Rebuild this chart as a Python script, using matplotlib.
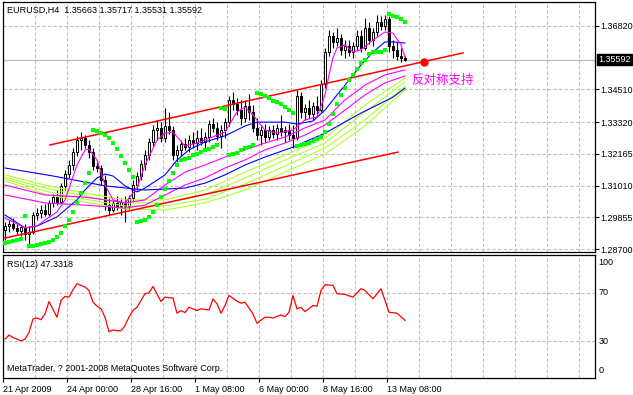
import matplotlib.pyplot as plt
import matplotlib.transforms as mtransforms
import numpy as np

# ---- EURUSD H4 candles ----
opens = [1.2939, 1.2954, 1.2961, 1.2947, 1.2936, 1.2950, 1.2925, 1.2932, 1.2994, 1.3001,
         1.3012, 1.2998, 1.3038, 1.3059, 1.3041, 1.3100, 1.3143, 1.3176, 1.3223, 1.3267,
         1.3274, 1.3249, 1.3223, 1.3172, 1.3165, 1.3121, 1.3030, 1.3012, 1.3038, 1.3027,
         1.3041, 1.3027, 1.3056, 1.3103, 1.3136, 1.3180, 1.3212, 1.3260, 1.3303, 1.3311,
         1.3274, 1.3318, 1.3303, 1.3212, 1.3231, 1.3252, 1.3241, 1.3267, 1.3256, 1.3274,
         1.3260, 1.3278, 1.3325, 1.3311, 1.3282, 1.3303, 1.3332, 1.3413, 1.3398, 1.3376,
         1.3347, 1.3391, 1.3369, 1.3311, 1.3285, 1.3303, 1.3278, 1.3303, 1.3289, 1.3311,
         1.3296, 1.3303, 1.3285, 1.3274, 1.3427, 1.3369, 1.3383, 1.3362, 1.3391, 1.3376,
         1.3471, 1.3587, 1.3646, 1.3624, 1.3638, 1.3595, 1.3609, 1.3587, 1.3609, 1.3646,
         1.3602, 1.3675, 1.3631, 1.3660, 1.3697, 1.3682, 1.3707, 1.3609, 1.3595, 1.3573,
         1.35663]
highs = [1.2968, 1.2976, 1.2983, 1.2961, 1.2958, 1.2961, 1.2954, 1.3005, 1.3019, 1.3030,
         1.3034, 1.3049, 1.3070, 1.3085, 1.3110, 1.3158, 1.3194, 1.3238, 1.3282, 1.3296,
         1.3285, 1.3267, 1.3238, 1.3194, 1.3176, 1.3140, 1.3056, 1.3049, 1.3063, 1.3056,
         1.3063, 1.3067, 1.3121, 1.3150, 1.3194, 1.3231, 1.3274, 1.3322, 1.3340, 1.3332,
         1.3383, 1.3369, 1.3318, 1.3249, 1.3267, 1.3274, 1.3285, 1.3296, 1.3303, 1.3311,
         1.3296, 1.3340, 1.3347, 1.3332, 1.3322, 1.3347, 1.3427, 1.3442, 1.3420, 1.3413,
         1.3413, 1.3434, 1.3394, 1.3347, 1.3318, 1.3325, 1.3318, 1.3322, 1.3325, 1.3358,
         1.3318, 1.3325, 1.3322, 1.3449, 1.3442, 1.3398, 1.3413, 1.3405, 1.3427, 1.3485,
         1.3602, 1.3667, 1.3660, 1.3675, 1.3653, 1.3631, 1.3631, 1.3624, 1.3667, 1.3667,
         1.3711, 1.3697, 1.3675, 1.3722, 1.3718, 1.3722, 1.3718, 1.3631, 1.3624, 1.3602,
         1.35717]
lows = [1.2903, 1.2932, 1.2939, 1.2925, 1.2918, 1.2903, 1.2885, 1.2925, 1.2976, 1.2983,
        1.2990, 1.2990, 1.3023, 1.3030, 1.3034, 1.3085, 1.3129, 1.3158, 1.3209, 1.3231,
        1.3238, 1.3201, 1.3158, 1.3150, 1.3103, 1.3012, 1.2994, 1.3005, 1.3012, 1.2994,
        1.2968, 1.3012, 1.3041, 1.3085, 1.3121, 1.3158, 1.3194, 1.3245, 1.3267, 1.3260,
        1.3260, 1.3289, 1.3194, 1.3187, 1.3209, 1.3231, 1.3223, 1.3238, 1.3231, 1.3249,
        1.3238, 1.3260, 1.3296, 1.3267, 1.3238, 1.3274, 1.3318, 1.3376, 1.3358, 1.3322,
        1.3332, 1.3340, 1.3296, 1.3267, 1.3249, 1.3260, 1.3267, 1.3274, 1.3267, 1.3282,
        1.3260, 1.3267, 1.3238, 1.3267, 1.3347, 1.3340, 1.3347, 1.3340, 1.3362, 1.3369,
        1.3456, 1.3573, 1.3602, 1.3609, 1.3576, 1.3566, 1.3573, 1.3566, 1.3595, 1.3587,
        1.3595, 1.3616, 1.3609, 1.3646, 1.3667, 1.3667, 1.3587, 1.3566, 1.3558, 1.3551,
        1.35531]
closes = [1.2954, 1.2961, 1.2947, 1.2936, 1.2950, 1.2925, 1.2932, 1.2994, 1.3001, 1.3012,
          1.2998, 1.3038, 1.3059, 1.3041, 1.3100, 1.3143, 1.3176, 1.3223, 1.3267, 1.3274,
          1.3249, 1.3223, 1.3172, 1.3165, 1.3121, 1.3030, 1.3012, 1.3038, 1.3027, 1.3041,
          1.3027, 1.3056, 1.3103, 1.3136, 1.3180, 1.3212, 1.3260, 1.3303, 1.3311, 1.3274,
          1.3318, 1.3303, 1.3212, 1.3231, 1.3252, 1.3241, 1.3267, 1.3256, 1.3274, 1.3260,
          1.3278, 1.3325, 1.3311, 1.3282, 1.3303, 1.3332, 1.3413, 1.3398, 1.3376, 1.3347,
          1.3391, 1.3369, 1.3311, 1.3285, 1.3303, 1.3278, 1.3303, 1.3289, 1.3311, 1.3296,
          1.3303, 1.3285, 1.3274, 1.3427, 1.3369, 1.3383, 1.3362, 1.3391, 1.3376, 1.3471,
          1.3587, 1.3646, 1.3624, 1.3638, 1.3595, 1.3609, 1.3587, 1.3609, 1.3646, 1.3602,
          1.3675, 1.3631, 1.3660, 1.3697, 1.3682, 1.3707, 1.3609, 1.3595, 1.3573, 1.3566,
          1.35592]

# ---- moving averages, sampled at bar indices ----
mag_fast_idx = [0, 5, 8, 10, 13, 15, 18, 20, 21, 23, 25, 27, 30, 33, 35, 38, 40, 42, 45, 48,
                50, 55, 58, 60, 62, 65, 68, 72, 75, 78, 80, 81, 82, 83, 85, 87, 89, 92, 95, 97, 99, 100]
mag_fast_val = [1.2983, 1.2947, 1.2954, 1.2976, 1.3005, 1.3049, 1.3176, 1.3231, 1.3234, 1.3194,
                1.3103, 1.3049, 1.3038, 1.3092, 1.3176, 1.3267, 1.3292, 1.3296, 1.3245, 1.3256,
                1.3267, 1.3296, 1.3369, 1.3387, 1.3358, 1.3303, 1.3292, 1.3303, 1.3340, 1.3351,
                1.3431, 1.3504, 1.3566, 1.3602, 1.3613, 1.3587, 1.3595, 1.3631, 1.3660, 1.3656,
                1.3613, 1.3569]
blue_fast_idx = [0, 5, 8, 13, 18, 20, 23, 25, 27, 30, 33, 35, 40, 43, 46, 50, 55, 60, 63, 70,
                 73, 77, 80, 83, 86, 89, 92, 95, 97, 100]
blue_fast_val = [1.2994, 1.2947, 1.2954, 1.2987, 1.3049, 1.3085, 1.3129, 1.3143, 1.3136, 1.3100,
                 1.3078, 1.3092, 1.3140, 1.3194, 1.3231, 1.3260, 1.3282, 1.3318, 1.3332, 1.3332,
                 1.3325, 1.3336, 1.3376, 1.3431, 1.3485, 1.3540, 1.3587, 1.3624, 1.3624, 1.3620]
blue_slow_idx = [0, 12, 25, 35, 45, 50, 55, 60, 65, 72, 80, 89, 97, 100]
blue_slow_val = [1.3165, 1.3136, 1.3100, 1.3085, 1.3092, 1.3110, 1.3140, 1.3176, 1.3205, 1.3241,
                 1.3292, 1.3365, 1.3423, 1.3456]
mag_a_idx = [0, 10, 20, 25, 30, 35, 40, 45, 50, 55, 60, 65, 70, 75, 80, 85, 90, 95, 100]
mag_a_val = [1.3103, 1.3067, 1.3059, 1.3049, 1.3038, 1.3049, 1.3103, 1.3150, 1.3176, 1.3205,
             1.3231, 1.3256, 1.3278, 1.3311, 1.3340, 1.3413, 1.3467, 1.3504, 1.3522]
mag_b_idx = [0, 10, 20, 30, 35, 40, 45, 50, 55, 60, 65, 70, 75, 80, 85, 90, 95, 100]
mag_b_val = [1.3067, 1.3038, 1.3030, 1.3019, 1.3030, 1.3067, 1.3103, 1.3129, 1.3165, 1.3194,
             1.3231, 1.3256, 1.3285, 1.3322, 1.3376, 1.3431, 1.3475, 1.3500]
yg_idx = [0, 10, 20, 30, 40, 50, 60, 70, 80, 90, 100]
yg1_val = [1.3140, 1.3103, 1.3074, 1.3049, 1.3049, 1.3085, 1.3150, 1.3212, 1.3274, 1.3394, 1.3493]
yg2_val = [1.3132, 1.3092, 1.3063, 1.3038, 1.3038, 1.3067, 1.3129, 1.3194, 1.3256, 1.3369, 1.3478]
yg3_val = [1.3125, 1.3081, 1.3052, 1.3027, 1.3027, 1.3052, 1.3107, 1.3172, 1.3238, 1.3340, 1.3464]
yg4_val = [1.3118, 1.3070, 1.3041, 1.3016, 1.3012, 1.3038, 1.3085, 1.3150, 1.3216, 1.3318, 1.3449]

# ---- parabolic SAR, one dot per bar ----
sar_val = [1.2892, 1.2896, 1.2899, 1.2903, 1.2907, 1.2990, 1.2881, 1.2881, 1.2885, 1.2888,
           1.2892, 1.2896, 1.2903, 1.2914, 1.2928, 1.2954, 1.2976, 1.3005, 1.3038, 1.3074,
           1.3110, 1.3147, 1.3303, 1.3300, 1.3292, 1.3285, 1.3274, 1.3256, 1.3234, 1.3209,
           1.3183, 1.3158, 1.3132, 1.2968, 1.2972, 1.2976, 1.2987, 1.3005, 1.3030, 1.3059,
           1.3089, 1.3118, 1.3147, 1.3176, 1.3194, 1.3198, 1.3201, 1.3212, 1.3216, 1.3223,
           1.3231, 1.3234, 1.3241, 1.3249, 1.3383, 1.3380, 1.3212, 1.3216, 1.3220, 1.3231,
           1.3238, 1.3241, 1.3249, 1.3438, 1.3434, 1.3427, 1.3420, 1.3409, 1.3405, 1.3398,
           1.3387, 1.3376, 1.3365, 1.3245, 1.3249, 1.3252, 1.3256, 1.3263, 1.3271, 1.3278,
           1.3296, 1.3325, 1.3362, 1.3398, 1.3431, 1.3456, 1.3485, 1.3504, 1.3526, 1.3547,
           1.3558, 1.3580, 1.3587, 1.3587, 1.3587, 1.3595, 1.3726, 1.3718, 1.3715, 1.3707,
           1.3697]

# ---- channel lines and the support point ----
upper_idx = [11.25, 114.5]
upper_val = [1.3249, 1.3584]
lower_idx = [0, 98.25]
lower_val = [1.2910, 1.3223]
dot_idx, dot_val = 104.75, 1.3551
note_idx, note_val = 101.5, 1.3485
note_text = "反对称支持"

# ---- RSI(12) ----
rsi_idx = [0, 1, 2, 4, 5, 6, 7, 8, 9, 10, 11, 13, 14, 15, 16, 17, 18, 19, 20, 21, 22, 23, 24,
           25, 26, 27, 28, 29, 30, 31, 32, 33, 35, 36, 37, 39, 40, 42, 43, 44, 45, 46, 48, 49,
           51, 52, 53, 54, 55, 56, 58, 59, 60, 62, 63, 65, 66, 67, 69, 70, 71, 72, 73, 74, 75,
           77, 78, 79, 80, 82, 83, 85, 87, 89, 90, 92, 93, 94, 96, 98, 100]
rsi_val = [31.9, 35.2, 33.3, 30.5, 31.9, 37.4, 48.5, 49.3, 47.9, 52.6, 62.8, 49.9, 63.7, 67.0,
           66.4, 72.5, 77.4, 76.0, 74.7, 71.9, 62.3, 59.0, 56.8, 49.9, 38.0, 39.4, 38.8, 38.8,
           43.0, 50.0, 55.4, 58.1, 69.2, 70.0, 75.2, 62.8, 66.4, 65.6, 53.2, 55.4, 53.7, 58.1,
           55.4, 56.8, 55.9, 65.0, 60.9, 53.2, 59.5, 67.8, 63.1, 61.4, 62.3, 52.6, 44.9, 49.9,
           49.9, 49.3, 51.8, 50.4, 54.0, 67.8, 56.8, 58.1, 54.5, 59.5, 59.0, 71.9, 76.6, 76.1,
           69.2, 68.6, 66.4, 73.3, 71.9, 65.0, 69.2, 73.3, 54.0, 53.2, 47.3]

price_ticks = [1.36820, 1.34510, 1.33320, 1.32165, 1.31010, 1.29855, 1.28700]
time_ticks = [-0.5, 15.5, 31.5, 47.5, 63.5, 79.5, 95.5]
time_labels = ["21 Apr 2009", "24 Apr 00:00", "28 Apr 16:00", "1 May 08:00",
               "6 May 00:00", "8 May 16:00", "13 May 08:00"]

FONT = "Liberation Sans"
FS = 6.5
GRID = "#c0c0c0"

fig = plt.figure(figsize=(6.33, 3.95), dpi=100)
ax = fig.add_axes([3 / 633, 143 / 395, 592 / 633, 250 / 395])
ax2 = fig.add_axes([3 / 633, 17 / 395, 592 / 633, 123 / 395])

o = np.array(opens)
h = np.array(highs)
l = np.array(lows)
c = np.array(closes)
idx = np.arange(len(c))

for a in (ax, ax2):
    a.set_xlim(-0.5, 147.5)
    a.vlines(np.arange(7.5, 147.5, 8), 0, 1, transform=a.get_xaxis_transform(),
             colors=GRID, lw=0.8, linestyles=(0, (3, 2)), zorder=0)
    for s in a.spines.values():
        s.set_color("black")
        s.set_linewidth(0.9)

# price panel
ax.set_ylim(1.28593, 1.37693)
ax.hlines(price_ticks, -0.5, 147.5, colors=GRID, lw=0.8, linestyles=(0, (3, 2)), zorder=0)
ax.axhline(closes[-1], color=GRID, lw=1.0, zorder=0)

ax.vlines(idx, l, h, color="black", lw=0.8, zorder=2)
up = c >= o
ax.bar(idx[up], (c - o)[up], bottom=o[up], width=0.65, color="white",
       edgecolor="black", lw=0.7, zorder=2.5)
ax.bar(idx[~up], (c - o)[~up], bottom=o[~up], width=0.65, color="black",
       edgecolor="black", lw=0.7, zorder=2.5)

lw_ma = 0.8
for vals in (yg1_val, yg2_val, yg3_val, yg4_val):
    ax.plot(yg_idx, vals, color="#adff2f", lw=lw_ma, zorder=3)
ax.plot(mag_a_idx, mag_a_val, color="#ff00ff", lw=lw_ma, zorder=3)
ax.plot(mag_b_idx, mag_b_val, color="#ff00ff", lw=lw_ma, zorder=3)
ax.plot(blue_slow_idx, blue_slow_val, color="#0000ff", lw=lw_ma, zorder=3)
ax.plot(blue_fast_idx, blue_fast_val, color="#0000ff", lw=lw_ma, zorder=3)
ax.plot(mag_fast_idx, mag_fast_val, color="#ff00ff", lw=lw_ma, zorder=3)

# SAR dots: small squares with a visible gap between bars
ax.plot(idx, sar_val, ls="none", marker="s", ms=2.2, color="#00ff00", mew=0, zorder=4)

ax.plot(upper_idx, upper_val, color="red", lw=1.1, zorder=3.5)
ax.plot(lower_idx, lower_val, color="red", lw=1.1, zorder=3.5)
ax.plot(dot_idx, dot_val, marker="o", ms=5, color="red", zorder=5)
ax.text(note_idx, note_val, note_text, color="#ff00ff", fontsize=9,
        family=["Noto Sans CJK SC", "DejaVu Sans"], ha="left", va="center", zorder=5)

ax.text(0.006, 0.985, "EURUSD,H4  1.35663 1.35717 1.35531 1.35592", transform=ax.transAxes,
        fontsize=FS, family=FONT, ha="left", va="top")

ax.set_xticks([])
ax.yaxis.tick_right()
ax.set_yticks(price_ticks)
ax.set_yticklabels([f"{v:.5f}" for v in price_ticks])
ax.tick_params(axis="y", direction="out", length=3, width=0.8, pad=0.5, labelsize=FS)
for t in ax.get_yticklabels():
    t.set_family(FONT)

ax.annotate(f"{closes[-1]:.5f}", xy=(1, closes[-1]), xycoords=ax.get_yaxis_transform(),
            xytext=(2.5, 0), textcoords="offset points", fontsize=FS, family=FONT,
            color="white", ha="left", va="center",
            bbox=dict(boxstyle="square,pad=0.12", fc="black", ec="black"))

# RSI panel
ax2.set_ylim(0, 101)
ax2.hlines([30, 70], -0.5, 147.5, colors=GRID, lw=0.8, linestyles=(0, (3, 2)), zorder=0)
ax2.plot(rsi_idx, rsi_val, color="red", lw=0.9, zorder=3)
ax2.set_yticks([])
ax2.text(0.006, 0.96, f"RSI(12) {47.3318:.4f}", transform=ax2.transAxes,
         fontsize=FS, family=FONT, ha="left", va="top")
ax2.text(0.006, 0.04, "MetaTrader, ? 2001-2008 MetaQuotes Software Corp.",
         transform=ax2.transAxes, fontsize=FS, family=FONT, ha="left", va="bottom")
tr = mtransforms.blended_transform_factory(ax2.transAxes, ax2.transData)
for val, ypos in zip(["100", "70", "30", "0"], [95, 70, 30, 6]):
    ax2.text(1.006, ypos, val, transform=tr, fontsize=FS, family=FONT, ha="left", va="center")

ax2.set_xticks(time_ticks)
ax2.set_xticklabels(time_labels)
ax2.tick_params(axis="x", direction="out", length=3, width=0.8, pad=2, labelsize=FS)
for t in ax2.get_xticklabels():
    t.set_family(FONT)
    t.set_horizontalalignment("left")

fig.savefig("out.png", dpi=100, facecolor="white")
